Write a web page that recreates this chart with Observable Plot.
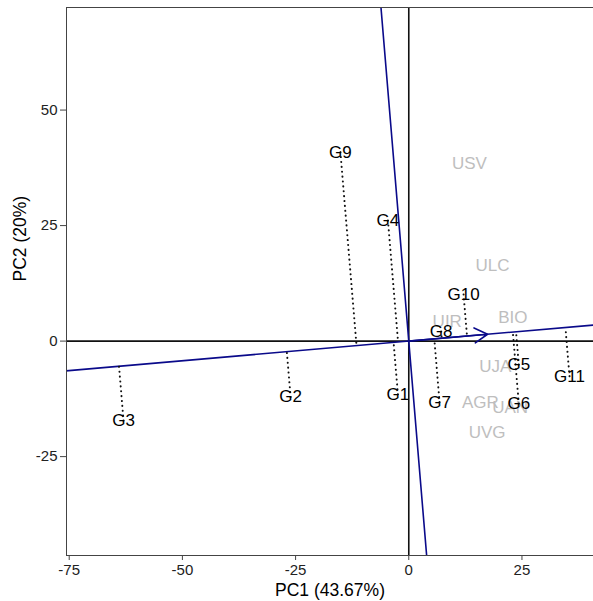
<!DOCTYPE html>
<html>
<head>
<meta charset="utf-8">
<script src="https://cdn.jsdelivr.net/npm/d3@7"></script>
<script src="https://cdn.jsdelivr.net/npm/@observablehq/plot@0.6"></script>
<style>
  html, body { margin: 0; padding: 0; background: #fff; }
  #chart svg { display: block; }
</style>
</head>
<body>
<div id="chart"></div>
<script>
// ---- data ----
const genotypes = ["G1","G2","G3","G4","G5","G6","G7","G8","G9","G10","G11"];
const genoPC1   = [-2.4, -26.1, -63.0, -4.6, 24.3, 24.3, 6.8, 7.15, -15.1, 12.1, 35.5];
const genoPC2   = [-11.5, -12.1, -17.2, 26.1, -5.1, -13.5, -13.2, 2.1, 40.9, 10.1, -7.6];

const environments = ["USV","ULC","BIO","UIR","UJA","AGR","UAN","UVG"];
const envPC1       = [13.4, 18.5, 23.0, 8.5, 19.1, 15.8, 22.4, 17.3];
const envPC2       = [38.4, 16.4, 5.2, 4.3, -5.6, -13.3, -14.3, -19.7];

// average environment coordinate (arrow tip)
const meanEnv = [17.4, 1.48];

const xTicks = [-75, -50, -25, 0, 25];
const yTicks = [-25, 0, 25, 50];
const xTitle = "PC1 (43.67%)";
const yTitle = "PC2 (20%)";

// ---- derived ----
const xDomain = [-75.6, 40.8];
const yDomain = [-46.4, 72.2];
const slope = meanEnv[1] / meanEnv[0];
const ux = 1 / Math.sqrt(1 + slope * slope), uy = slope * ux;

const geno = genotypes.map((g, i) => {
  const x = genoPC1[i], y = genoPC2[i];
  const t = x * ux + y * uy;
  return {g, x, y, px: t * ux, py: t * uy};
});
const env = environments.map((e, i) => ({e, x: envPC1[i], y: envPC2[i]}));

const big = 1000;
const abscissa = [{x: -big * ux, y: -big * uy}, {x: big * ux, y: big * uy}];
const ordinate = [{x: big * uy, y: -big * ux}, {x: -big * uy, y: big * ux}];

const font = "'Liberation Sans', Arial, Helvetica, sans-serif";

const chart = Plot.plot({
  width: 593,
  height: 601,
  marginLeft: 66,
  marginRight: 0,
  marginTop: 7,
  marginBottom: 46,
  style: {fontFamily: font, background: "#fff"},
  x: {domain: xDomain},
  y: {domain: yDomain},
  marks: [
    Plot.text(env, {x: "x", y: "y", text: "e", fill: "#BEBEBE", fontSize: 17, textAnchor: "middle", lineAnchor: "middle"}),
    Plot.ruleY([0], {stroke: "#111", strokeWidth: 1.6}),
    Plot.ruleX([0], {stroke: "#111", strokeWidth: 1.6}),
    Plot.line(abscissa, {x: "x", y: "y", stroke: "#0a0a8a", strokeWidth: 1.6, clip: true}),
    Plot.line(ordinate, {x: "x", y: "y", stroke: "#0a0a8a", strokeWidth: 1.6, clip: true}),
    Plot.link(geno, {x1: "x", y1: "y", x2: "px", y2: "py", stroke: "#111", strokeWidth: 2, strokeDasharray: "0.1 4.8", strokeLinecap: "round"}),
    Plot.arrow([meanEnv], {x1: () => 0, y1: () => 0, x2: d => d[0], y2: d => d[1], stroke: "#0a0a8a", strokeWidth: 1.6, headLength: 14, headAngle: 60}),
    Plot.text(geno, {x: "x", y: "y", text: "g", fill: "#000", fontSize: 17, textAnchor: "middle", lineAnchor: "middle"}),
    Plot.frame({anchor: "top", stroke: "#444"}),
    Plot.frame({anchor: "left", stroke: "#444"}),
    Plot.frame({anchor: "bottom", stroke: "#444"}),
    Plot.axisX({ticks: xTicks, tickFormat: d => String(d).replace("\u2212", "-"), label: null, fontSize: 15, tickSize: 5, tickPadding: 4, color: "#222", stroke: "#444"}),
    Plot.axisY({ticks: yTicks, tickFormat: d => String(d), label: null, fontSize: 15, tickSize: 6, tickPadding: 3, color: "#222", stroke: "#444"}),
    Plot.text([xTitle], {frameAnchor: "bottom", dy: 35, text: d => d, fontSize: 17.5, fill: "#000", lineAnchor: "middle"}),
    Plot.text([yTitle], {frameAnchor: "left", dx: -46, rotate: -90, text: d => d, fontSize: 17.5, fill: "#000", lineAnchor: "middle"})
  ]
});
document.getElementById("chart").appendChild(chart);
</script>
</body>
</html>
